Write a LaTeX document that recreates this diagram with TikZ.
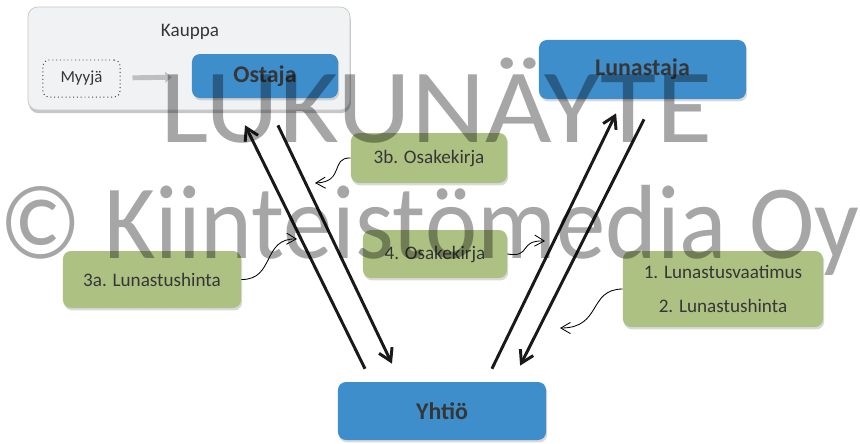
\documentclass[tikz,border=0pt]{standalone}
\usepackage{fontspec}
\setmainfont{Carlito}
\usetikzlibrary{arrows.meta,shadows}
\definecolor{boxblue}{HTML}{3E8ECC}
\definecolor{boxgreen}{HTML}{ADC182}
\definecolor{groupgray}{HTML}{F1F2F4}
\definecolor{textgray}{HTML}{363636}
\begin{document}
\begin{tikzpicture}[x=0.025cm,y=-0.025cm,
	party/.style={rectangle,rounded corners=0.2cm,fill=boxblue,text=textgray,
		font=\fontsize{17}{20}\selectfont\bfseries,
		drop shadow={opacity=0.3,shadow xshift=0.03cm,shadow yshift=-0.06cm}},
	paper/.style={rectangle,rounded corners=0.2cm,fill=boxgreen,text=textgray,
		font=\fontsize{13.6}{24}\selectfont,align=center,
		drop shadow={opacity=0.3,shadow xshift=0.03cm,shadow yshift=-0.06cm}},
	bigarrow/.style={line width=2.1pt,black!90,-{Straight Barb[length=0.3cm,width=0.36cm]}},
	curly/.style={line width=0.6pt,-{Straight Barb[length=0.24cm,width=0.28cm]}},
	stamp/.style={font=\fontsize{75}{80}\selectfont,text=black,text opacity=0.35,anchor=base,inner sep=0}]
	\useasboundingbox (0,0) rectangle (860,443);
	% kauppa group
		\node[rectangle,rounded corners=0.25cm,fill=groupgray,draw=black!22,line width=0.5pt,
			minimum width=8.05cm,minimum height=2.575cm,
			drop shadow={opacity=0.45,shadow xshift=0.02cm,shadow yshift=-0.08cm}] (kauppa) at (189,58.5) {};
		\node[text=textgray,font=\fontsize{13.6}{16}\selectfont] (kauppalabel) at (190,32) {Kauppa};
		\node[rectangle,rounded corners=0.15cm,fill=groupgray,draw=black!75,dotted,line width=0.7pt,
			minimum width=1.925cm,minimum height=0.925cm,text=textgray,
			font=\fontsize{12}{14}\selectfont] (myyja) at (81.5,78.5) {Myyjä};
		\node[party,minimum width=3.65cm,minimum height=1.1cm] (ostaja) at (265,76) {Ostaja};
		\draw[line width=3.5pt,black!25,shorten <=0.3cm,shorten >=0.5cm,-{Triangle[length=0.16cm,width=0.26cm]}] (myyja) -- (ostaja);
	% other parties
		\node[party,minimum width=5.175cm,minimum height=1.475cm] (lunastaja) at (642.5,69.5) {Lunastaja};
		\node[party,minimum width=5.2cm,minimum height=1.45cm] (yhtio) at (442,411) {Yhtiö};
	% documents and payments
		\node[paper,minimum width=3.9cm,minimum height=1.25cm] (osake3b) at (429,158) {3b. Osakekirja};
		\node[paper,minimum width=3.6cm,minimum height=1.2cm] (osake4) at (435,254) {4. Osakekirja};
		\node[paper,minimum width=4.45cm,minimum height=1.425cm] (hinta3a) at (152,279.5) {3a. Lunastushinta};
		\node[paper,minimum width=5cm,minimum height=1.9cm] (vaatimus) at (723,289) {1. Lunastusvaatimus\\2. Lunastushinta};
	% movements between the parties
		\draw[bigarrow,shorten <=0.36cm,shorten >=0.75cm] ([xshift=-1.765cm]yhtio.north) -- ([xshift=-0.83cm]ostaja.south);
		\draw[bigarrow,shorten <=0.75cm,shorten >=0.5cm] (ostaja.south) -- ([xshift=-1.035cm]yhtio.north);
		\draw[bigarrow,shorten <=0.36cm,shorten >=0.39cm] ([xshift=1.09cm]yhtio.north) -- ([xshift=-0.49cm]lunastaja.south);
		\draw[bigarrow,shorten <=0.56cm,shorten >=0.45cm] ([xshift=0.29cm]lunastaja.south) -- ([xshift=1.75cm]yhtio.north);
	% pointers to the arrows
		\coordinate (tip3b) at (315,183);
		\coordinate (tip3a) at (297,239);
		\coordinate (tip4) at (545,241);
		\coordinate (tip12) at (560,328);
		\draw[curly] (osake3b.west) .. controls (330,157) and (345,182) .. (tip3b);
		\draw[curly] (hinta3a.east) .. controls (275,280) and (262,238) .. (tip3a);
		\draw[curly] (osake4.east) .. controls (532,258) and (518,240) .. (tip4);
		\draw[curly] (vaatimus.west) .. controls (588,289) and (602,328) .. (tip12);
	% sample stamp on top
		\node[stamp,xscale=1.09] (stamp1) at (436,142) {LUKUNÄYTE};
		\node[stamp,xscale=0.936] (stamp2) at (429.5,258) {© Kiinteistömedia Oy};
\end{tikzpicture}
\end{document}
